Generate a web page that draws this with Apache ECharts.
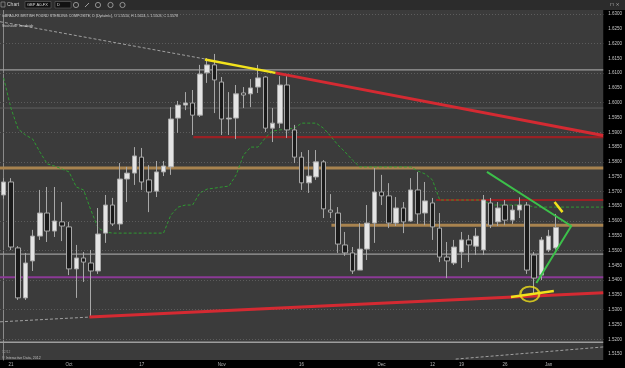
<!DOCTYPE html>
<html><head><meta charset="utf-8">
<script src="https://cdn.jsdelivr.net/npm/echarts@6/dist/echarts.min.js"></script>
<style>html,body{margin:0;padding:0;background:#000;overflow:hidden}#c{width:625px;height:368px}</style>
</head><body><div id="c"></div>
<script>
// ---------- data ----------
const dates = ['09-20','09-21','09-24','09-25','09-26','09-27','09-28','10-01','10-02','10-03','10-04','10-05','10-08','10-09','10-10','10-11','10-12','10-15','10-16','10-17','10-18','10-19','10-22','10-23','10-24','10-25','10-26','10-29','10-30','10-31','11-01','11-02','11-05','11-06','11-07','11-08','11-09','11-12','11-13','11-14','11-15','11-16','11-19','11-20','11-21','11-22','11-23','11-26','11-27','11-28','11-29','11-30','12-03','12-04','12-05','12-06','12-07','12-10','12-11','12-12','12-13','12-14','12-17','12-18','12-19','12-20','12-21','12-24','12-26','12-27','12-28','12-31','01-01','01-02','01-03','01-04','01-07','01-08','01-09','01-10','01-11','01-14','01-15'];
// [open, close, low, high]
const candles = [
[1.5688,1.5732,1.5675,1.5745],[1.5732,1.5512,1.5502,1.5745],[1.5509,1.5340,1.5333,1.5515],[1.5340,1.5458,1.5333,1.5492],
[1.5465,1.5549,1.5431,1.5570],[1.5549,1.5627,1.5536,1.5705],[1.5627,1.5566,1.5529,1.5715],[1.5566,1.5600,1.5546,1.5715],
[1.5597,1.5583,1.5532,1.5664],[1.5580,1.5438,1.5417,1.5597],[1.5438,1.5475,1.5340,1.5519],[1.5475,1.5461,1.5394,1.5495],
[1.5458,1.5431,1.5275,1.5502],[1.5431,1.5556,1.5421,1.5644],[1.5559,1.5654,1.5526,1.5688],[1.5654,1.5590,1.5583,1.5678],
[1.5590,1.5742,1.5570,1.5796],[1.5742,1.5762,1.5664,1.5783],[1.5762,1.5820,1.5722,1.5850],[1.5816,1.5732,1.5705,1.5847],
[1.5739,1.5698,1.5630,1.5789],[1.5701,1.5766,1.5681,1.5803],[1.5766,1.5786,1.5752,1.5803],[1.5783,1.5945,1.5756,1.5985],
[1.5948,1.5992,1.5898,1.6006],[1.5992,1.5999,1.5975,1.6036],[1.5999,1.5958,1.5891,1.6043],[1.5958,1.6097,1.5952,1.6128],
[1.6101,1.6128,1.6067,1.6151],[1.6128,1.6077,1.5965,1.6165],[1.6070,1.5945,1.5891,1.6087],[1.5945,1.5948,1.5891,1.6036],
[1.5948,1.6030,1.5877,1.6060],[1.6033,1.6026,1.5982,1.6053],[1.6030,1.6050,1.5985,1.6080],[1.6053,1.6084,1.6033,1.6128],
[1.6087,1.5914,1.5901,1.6090],[1.5914,1.5931,1.5867,1.5982],[1.5931,1.6060,1.5914,1.6090],[1.6060,1.5908,1.5881,1.6090],
[1.5908,1.5816,1.5796,1.5925],[1.5816,1.5729,1.5705,1.5833],[1.5729,1.5752,1.5695,1.5840],[1.5749,1.5800,1.5739,1.5840],
[1.5800,1.5641,1.5610,1.5806],[1.5637,1.5630,1.5610,1.5691],[1.5627,1.5522,1.5492,1.5647],[1.5519,1.5492,1.5482,1.5563],
[1.5492,1.5431,1.5421,1.5512],[1.5434,1.5505,1.5434,1.5593],[1.5505,1.5593,1.5468,1.5654],[1.5593,1.5698,1.5526,1.5779],
[1.5698,1.5685,1.5654,1.5756],[1.5685,1.5593,1.5576,1.5728],[1.5593,1.5644,1.5583,1.5681],[1.5644,1.5597,1.5559,1.5664],
[1.5600,1.5705,1.5597,1.5745],[1.5705,1.5624,1.5590,1.5766],[1.5627,1.5668,1.5586,1.5732],[1.5661,1.5580,1.5536,1.5678],
[1.5576,1.5478,1.5461,1.5627],[1.5478,1.5465,1.5407,1.5529],[1.5458,1.5512,1.5451,1.5536],[1.5495,1.5536,1.5441,1.5563],
[1.5536,1.5519,1.5461,1.5553],[1.5515,1.5549,1.5485,1.5576],[1.5502,1.5671,1.5485,1.5688],[1.5661,1.5586,1.5576,1.5678],
[1.5597,1.5644,1.5583,1.5664],[1.5654,1.5603,1.5586,1.5671],[1.5603,1.5637,1.5590,1.5654],[1.5637,1.5654,1.5610,1.5680],
[1.5654,1.5434,1.5421,1.5664],[1.5485,1.5407,1.5346,1.5495],[1.5417,1.5536,1.5400,1.5546],[1.5502,1.5549,1.5495,1.5570],
[1.5509,1.5578,1.5503,1.5624]
];
const indicator = [1.6084,1.5982,1.5911,1.5891,1.5877,1.5833,1.5793,1.5786,1.5776,1.5766,1.5715,1.5705,1.5637,1.5576,1.5563,
1.5559,1.5559,1.5559,1.5559,1.5559,1.5559,1.5559,1.5559,1.5620,1.5647,1.5654,1.5654,1.5695,1.5708,1.5711,1.5715,1.5718,
1.5756,1.5823,1.5850,1.5850,1.5881,1.5904,1.5908,1.5911,1.5914,1.5931,1.5931,1.5931,1.5914,1.5887,1.5857,1.5833,1.5806,
1.5783,1.5783,1.5783,1.5783,1.5783,1.5783,1.5783,1.5783,1.5769,1.5759,1.5739,1.5671,1.5671,1.5671,1.5671,1.5671,1.5671,
1.5671,1.5654,1.5654,1.5654,1.5654,1.5654,1.5654,1.5647,1.5647,1.5647,1.5647];
const yTicks = [1.515,1.52,1.525,1.53,1.535,1.54,1.545,1.55,1.555,1.56,1.565,1.57,1.575,1.58,1.585,1.59,1.595,1.60,1.605,1.61,1.615,1.62,1.625,1.63];
const xTicks = [[1,'21'],[9,'Oct'],[19,'17'],[30,'Nov'],[41,'16'],[52,'Dec'],[59,'12'],[63,'19'],[69,'26'],[75,'Jan']];
const grayLevels = [1.6111, 1.5488, 1.5190];
const faintLevels = [1.5982];
const tanLevels = [[-0.5, 1.5779], [45.1, 1.5586]];
const darkRedLevels = [[26.1, 1.5884], [59.5, 1.5671]];
const purpleLevels = [1.5410];
const redTrends = [[[37.4, 1.6101], [82.5, 1.5889]], [[11.8, 1.5275], [82.5, 1.5357]]];
const yellowTrends = [[[27.7, 1.6146], [37.4, 1.6101]], [[69.8, 1.5343], [75.7, 1.5363]], [[75.8, 1.5664], [76.9, 1.5630]]];
const grayTrends = [[[-0.5, 1.6274], [27.7, 1.6148]], [[-0.5, 1.5259], [11.8, 1.5275]], [[62.2, 1.5133], [82.5, 1.5174]]];
const greenPath = [[66.5, 1.5766], [78.1, 1.5583], [73.3, 1.5390]];
const indicatorTail = [[76, 1.5647], [82.5, 1.5647]];
const circleAt = [72.4, 1.5353];
const lastPrice = 1.5578;
const headerText = 'GBPA0-FX BRITISH POUND STERLING COMPOSITE, D (Dynamic), O 1.5510, H 1.5624, L 1.5503, C 1.5578';
const studyText = 'Stochastic Trendwide';

// ---------- chart ----------
const XMAX = dates.length - 0.5;
const chart = echarts.init(document.getElementById('c'), null, {renderer: 'canvas'});
const xTickMap = new Map(xTicks);
const series = [];
function lineSer(data, color, width, type, z) {
  series.push({type: 'line', xAxisIndex: 1, yAxisIndex: 0, data: data, symbol: 'none', silent: true,
    animation: false, z: z || 3, lineStyle: {color: color, width: width, type: type || 'solid'}});
}
// dotted grid
series.push({type: 'line', xAxisIndex: 1, data: [], silent: true, z: 1,
  markLine: {silent: true, symbol: 'none', animation: false, label: {show: false},
    lineStyle: {color: '#5c5c5c', width: 1, type: [1, 2]},
    data: yTicks.map(v => ({yAxis: v}))}});
grayLevels.forEach(v => lineSer([[-0.5, v], [XMAX, v]], '#9d9d9d', 1.3, 'solid', 2));
faintLevels.forEach(v => lineSer([[-0.5, v], [XMAX, v]], '#5f5f5f', 1, 'solid', 2));
tanLevels.forEach(a => lineSer([a, [XMAX, a[1]]], '#a8834f', 3, 'solid', 2));
darkRedLevels.forEach(a => lineSer([a, [XMAX, a[1]]], '#9a2024', 2.2, 'solid', 2));
purpleLevels.forEach(v => lineSer([[-0.5, v], [XMAX, v]], '#8b3a96', 2, 'solid', 2));
series.push({type: 'line', xAxisIndex: 0, yAxisIndex: 0, data: indicator, symbol: 'none', silent: true, z: 3,
  lineStyle: {color: '#2f9a32', width: 1, type: [3, 2]}});
lineSer(indicatorTail, '#2f9a32', 1, [3, 2], 3);
series.push({type: 'candlestick', xAxisIndex: 0, yAxisIndex: 0, data: candles, barWidth: 5, z: 5,
  itemStyle: {color: '#e4e4e4', color0: '#1b1b1b', borderColor: '#a8a8a8', borderColor0: '#a8a8a8', borderWidth: 1},
  markLine: {silent: true, symbol: 'none', animation: false,
    lineStyle: {opacity: 0},
    label: {position: 'end', formatter: () => lastPrice.toFixed(4), fontSize: 4.5, color: '#111',
      backgroundColor: '#e8e8e8', borderColor: '#39c43c', borderWidth: 1, padding: [1, 1], distance: 1, fontFamily: 'Liberation Sans'},
    data: [{yAxis: lastPrice}]}});
grayTrends.forEach(t => lineSer(t, '#a0a0a0', 1, [3, 2], 6));
redTrends.forEach(t => lineSer(t, '#d42a32', 3, 'solid', 6));
yellowTrends.forEach(t => lineSer(t, '#f2e21c', 2.5, 'solid', 7));
lineSer(greenPath, '#3cc04a', 2, 'solid', 7);
series.push({type: 'scatter', xAxisIndex: 1, yAxisIndex: 0, data: [circleAt], symbol: 'circle', symbolSize: [19, 15], z: 8, silent: true,
  itemStyle: {color: 'rgba(0,0,0,0)', borderColor: '#f2e21c', borderWidth: 2}});

const option = {
  backgroundColor: '#000',
  animation: false,
  textStyle: {fontFamily: 'Liberation Sans'},
  grid: {left: -1, right: 19, top: 10, bottom: 8, show: true, backgroundColor: '#3b3b3b', borderWidth: 0},
  xAxis: [
    {type: 'category', data: dates, boundaryGap: true, axisLine: {show: false}, axisTick: {show: false},
      axisLabel: {interval: (i) => xTickMap.has(i), formatter: (v, i) => xTickMap.get(i) || '',
        fontSize: 4.5, color: '#b5b5b5', margin: 2}, splitLine: {show: false}},
    {type: 'value', min: -0.5, max: XMAX, show: false}
  ],
  yAxis: [{type: 'value', position: 'right', min: 1.51299, max: 1.63136, scale: true,
    axisLine: {show: true, lineStyle: {color: '#8a8a8a'}}, axisTick: {show: false}, splitLine: {show: false},
    axisLabel: {customValues: yTicks, formatter: v => v.toFixed(4), fontSize: 4.5, color: '#c8c8c8', margin: 5}}],
  series: series,
  graphic: [
    {type: 'rect', shape: {x: 0, y: 0, width: 625, height: 10}, style: {fill: '#2c2c2c'}, z: 100},
    {type: 'rect', shape: {x: 1, y: 2, width: 4, height: 5}, style: {fill: 'none', stroke: '#999', lineWidth: 0.7}, z: 101},
    {type: 'text', x: 7, y: 2.5, style: {text: 'Chart', fontSize: 5, fill: '#cfcfcf', fontFamily: 'Liberation Sans'}, z: 101},
    {type: 'rect', shape: {x: 25, y: 1.5, width: 26, height: 6.5}, style: {fill: '#111', stroke: '#666', lineWidth: 0.6}, z: 101},
    {type: 'text', x: 27, y: 2.8, style: {text: 'GBP A0-FX', fontSize: 4, fill: '#ddd', fontFamily: 'Liberation Sans'}, z: 102},
    {type: 'rect', shape: {x: 55, y: 1.5, width: 16, height: 6.5}, style: {fill: '#111', stroke: '#666', lineWidth: 0.6}, z: 101},
    {type: 'text', x: 57, y: 2.8, style: {text: 'D', fontSize: 4, fill: '#ddd', fontFamily: 'Liberation Sans'}, z: 102},
    {type: 'circle', shape: {cx: 76, cy: 5, r: 2.6}, style: {fill: 'none', stroke: '#aaa', lineWidth: 0.8}, z: 101},
    {type: 'line', shape: {x1: 85, y1: 7, x2: 89, y2: 3}, style: {stroke: '#aaa', lineWidth: 0.9}, z: 101},
    {type: 'circle', shape: {cx: 98, cy: 5, r: 2.6}, style: {fill: 'none', stroke: '#aaa', lineWidth: 0.8}, z: 101},
    {type: 'circle', shape: {cx: 110.5, cy: 5, r: 2.6}, style: {fill: 'none', stroke: '#aaa', lineWidth: 0.8}, z: 101},
    {type: 'circle', shape: {cx: 122.5, cy: 5, r: 2.6}, style: {fill: 'none', stroke: '#aaa', lineWidth: 0.8}, z: 101},
    {type: 'text', x: 610, y: 2, style: {text: '⊓ ×', fontSize: 5, fill: '#aaa', fontFamily: 'DejaVu Sans'}, z: 101},
    {type: 'text', x: 2, y: 14, style: {text: headerText, fontSize: 3.6, fill: '#d0d0d0', fontFamily: 'Liberation Sans'}, z: 101},
    {type: 'text', x: 2, y: 24.5, style: {text: studyText, fontSize: 3.3, fill: '#cfcfcf', fontFamily: 'Liberation Sans'}, z: 101},
    {type: 'text', x: 2, y: 351, style: {text: '12/12', fontSize: 3.3, fill: '#9a9a9a', fontFamily: 'Liberation Sans'}, z: 101},
    {type: 'text', x: 2, y: 355.5, style: {text: '© Interactive Data, 2012', fontSize: 3.6, fill: '#bdbdbd', fontFamily: 'Liberation Sans'}, z: 101}
  ]
};
chart.setOption(option);
</script>
</body></html>
